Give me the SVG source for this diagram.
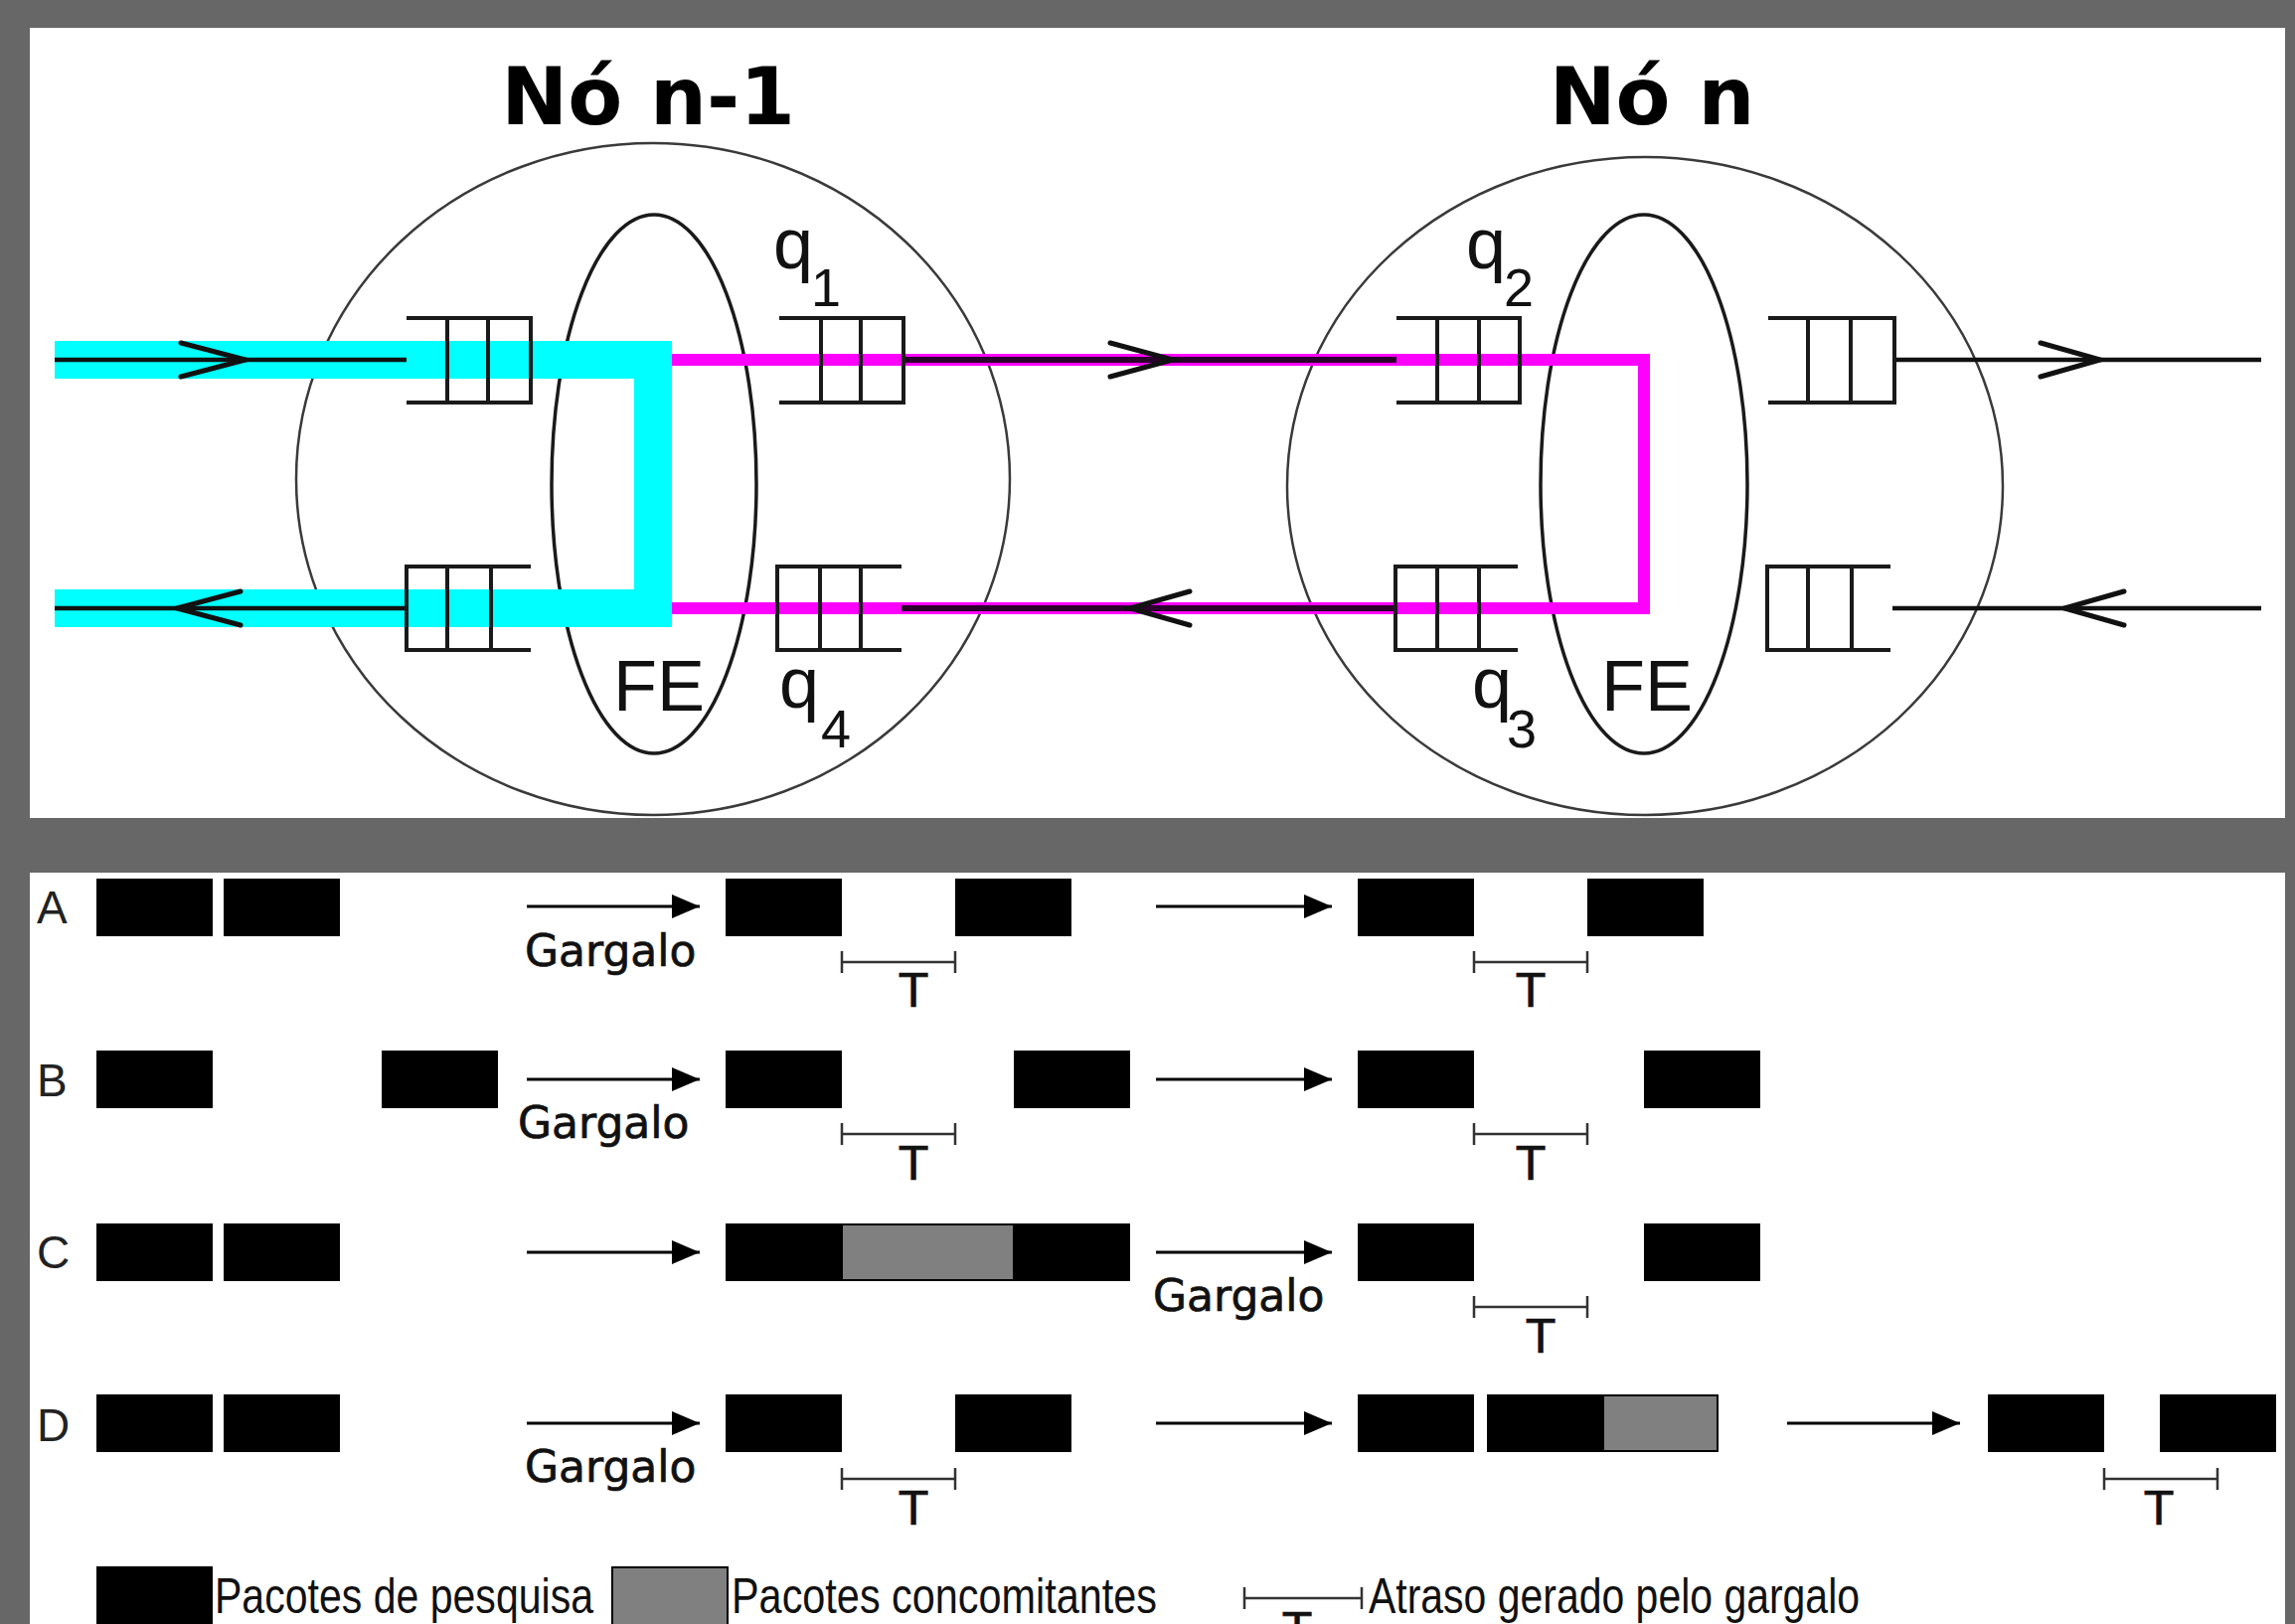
<svg xmlns="http://www.w3.org/2000/svg" width="2309" height="1634" viewBox="0 0 2309 1634">
<style>
.panel{fill:#fff}
.outer{fill:none;stroke:#3a3a3a;stroke-width:2.5}
.fe{fill:none;stroke:#1a1a1a;stroke-width:3.5}
.q{fill:none;stroke:#1a1a1a;stroke-width:4}
.title{font-family:"DejaVu Sans",sans-serif;font-weight:bold;font-size:80px;text-anchor:middle;fill:#000}
.lbl{font-family:"Liberation Sans",Arial,sans-serif;font-size:72px;fill:#111}
.sub{font-family:"Liberation Sans",Arial,sans-serif;font-size:54px;fill:#111}
.cyan{fill:none;stroke:#00ffff;stroke-width:38;stroke-linejoin:miter}
.mag{fill:none;stroke:#ff00ff;stroke-width:12;stroke-linejoin:miter}
.core{fill:none;stroke:#111;stroke-width:4.5}
.pcore{fill:none;stroke:#2b002b;stroke-width:6}
.chev{fill:none;stroke:#111;stroke-width:5;stroke-linecap:round}
.pk{fill:#000}
.cc{fill:#808080;stroke:#000;stroke-width:2}
.arr{fill:none;stroke:#000;stroke-width:3}
.gar{font-family:"DejaVu Sans",sans-serif;font-size:44px;fill:#111;stroke:#111;stroke-width:0.7}
.t{font-family:"DejaVu Sans",sans-serif;font-size:46px;text-anchor:middle;fill:#111;stroke:#111;stroke-width:0.7}
.brk{fill:none;stroke:#333;stroke-width:2.5}
.row{font-family:"Liberation Sans",Arial,sans-serif;font-size:46px;fill:#222}
.leg{font-family:"Liberation Sans Narrow","Liberation Sans",Arial,sans-serif;font-size:50px;fill:#111}
</style>
<defs>
<marker id="tri" markerUnits="userSpaceOnUse" markerWidth="30" markerHeight="26" refX="28" refY="12" orient="auto">
<path d="M0,0 L28,12 L0,24 Z" fill="#000"/>
</marker>
</defs>

<!-- backdrop and the two white panels -->
<rect x="0" y="0" width="2309" height="1634" fill="#676767"/>
<rect class="panel" x="30" y="28" width="2269" height="795"/>
<rect class="panel" x="30" y="878" width="2269" height="760"/>

<!-- node outlines -->
<g id="node-n-1">
<ellipse class="outer" cx="657" cy="482" rx="359" ry="338"/>
<ellipse class="fe" cx="658" cy="487" rx="103" ry="271"/>
<text class="title" x="652" y="125">Nó n-1</text>
</g>
<g id="node-n">
<ellipse class="outer" cx="1655" cy="489" rx="360" ry="331"/>
<ellipse class="fe" cx="1654" cy="487" rx="104" ry="271"/>
<text class="title" x="1662" y="125">Nó n</text>
</g>

<!-- connectors: traffic paths through the nodes -->
<g id="connectors">
<path class="cyan" d="M55,362 H657 V612 H55"/>
<path class="mag" d="M676,362 H1654 V612 H676"/>
<path class="core" d="M55,362 H409 M55,612 H409"/>
<path class="pcore" d="M909,362 H1405 M907,612 H1404"/>
<path class="core" d="M1906,362 H2275 M1904,612 H2275"/>
<path class="chev" d="M182,345 L247,362 L182,379"/>
<path class="chev" d="M242,595 L178,612 L242,629"/>
<path class="chev" d="M1117,345 L1180,362 L1117,379"/>
<path class="chev" d="M1197,595 L1137,612 L1197,629"/>
<path class="chev" d="M2053,345 L2113,362 L2053,379"/>
<path class="chev" d="M2137,595 L2077,612 L2137,629"/>
</g>

<!-- queues (open end + cells) -->
<g id="queue-in-upper-n-1"><path class="q" d="M409,320 H534 V405 H409 M450,320 V405 M491,320 V405"/></g>
<g id="queue-out-lower-n-1"><path class="q" d="M534,570 H409 V654 H534 M450,570 V654 M494,570 V654"/></g>
<g id="queue-q1"><path class="q" d="M784,320 H909 V405 H784 M826,320 V405 M866,320 V405"/></g>
<g id="queue-q4"><path class="q" d="M907,570 H782 V654 H907 M825,570 V654 M866,570 V654"/></g>
<g id="queue-q2"><path class="q" d="M1405,320 H1529 V405 H1405 M1446,320 V405 M1488,320 V405"/></g>
<g id="queue-q3"><path class="q" d="M1527,570 H1404 V654 H1527 M1446,570 V654 M1488,570 V654"/></g>
<g id="queue-out-upper-n"><path class="q" d="M1779,320 H1906 V405 H1779 M1819,320 V405 M1862,320 V405"/></g>
<g id="queue-in-lower-n"><path class="q" d="M1902,570 H1778 V654 H1902 M1819,570 V654 M1863,570 V654"/></g>

<!-- queue and forwarding-engine labels -->
<g id="labels">
<text class="lbl" x="778" y="270">q</text><text class="sub" x="816" y="308">1</text>
<text class="lbl" x="784" y="712">q</text><text class="sub" x="826" y="752">4</text>
<text class="lbl" x="1475" y="270">q</text><text class="sub" x="1513" y="308">2</text>
<text class="lbl" x="1481" y="712">q</text><text class="sub" x="1516" y="752">3</text>
<text class="lbl" x="617" y="715">FE</text>
<text class="lbl" x="1611" y="715">FE</text>
</g>

<!-- packet timelines -->
<g id="row-A">
<text class="row" x="37" y="929">A</text>
<rect class="pk" x="97" y="884" width="117" height="58"/>
<rect class="pk" x="225" y="884" width="117" height="58"/>
<path class="arr" d="M530,912 H704" marker-end="url(#tri)"/>
<text class="gar" x="528" y="972">Gargalo</text>
<rect class="pk" x="730" y="884" width="117" height="58"/>
<rect class="pk" x="961" y="884" width="117" height="58"/>
<path class="brk" d="M847,968 H961 M847,957 V979 M961,957 V979"/>
<text class="t" x="919" y="1013">T</text>
<path class="arr" d="M1163,912 H1340" marker-end="url(#tri)"/>
<rect class="pk" x="1366" y="884" width="117" height="58"/>
<rect class="pk" x="1597" y="884" width="117" height="58"/>
<path class="brk" d="M1483,968 H1597 M1483,957 V979 M1597,957 V979"/>
<text class="t" x="1540" y="1013">T</text>
</g>

<g id="row-B">
<text class="row" x="37" y="1103">B</text>
<rect class="pk" x="97" y="1057" width="117" height="58"/>
<rect class="pk" x="384" y="1057" width="117" height="58"/>
<path class="arr" d="M530,1086 H704" marker-end="url(#tri)"/>
<text class="gar" x="521" y="1145">Gargalo</text>
<rect class="pk" x="730" y="1057" width="117" height="58"/>
<rect class="pk" x="1020" y="1057" width="117" height="58"/>
<path class="brk" d="M847,1141 H961 M847,1130 V1152 M961,1130 V1152"/>
<text class="t" x="919" y="1187">T</text>
<path class="arr" d="M1163,1086 H1340" marker-end="url(#tri)"/>
<rect class="pk" x="1366" y="1057" width="117" height="58"/>
<rect class="pk" x="1654" y="1057" width="117" height="58"/>
<path class="brk" d="M1483,1141 H1597 M1483,1130 V1152 M1597,1130 V1152"/>
<text class="t" x="1540" y="1187">T</text>
</g>

<g id="row-C">
<text class="row" x="37" y="1276">C</text>
<rect class="pk" x="97" y="1231" width="117" height="58"/>
<rect class="pk" x="225" y="1231" width="117" height="58"/>
<path class="arr" d="M530,1260 H704" marker-end="url(#tri)"/>
<rect class="pk" x="730" y="1231" width="117" height="58"/>
<rect class="cc" x="847" y="1232" width="173" height="56"/>
<rect class="pk" x="1020" y="1231" width="117" height="58"/>
<path class="arr" d="M1163,1260 H1340" marker-end="url(#tri)"/>
<text class="gar" x="1160" y="1319">Gargalo</text>
<rect class="pk" x="1366" y="1231" width="117" height="58"/>
<rect class="pk" x="1654" y="1231" width="117" height="58"/>
<path class="brk" d="M1483,1315 H1597 M1483,1304 V1326 M1597,1304 V1326"/>
<text class="t" x="1550" y="1361">T</text>
</g>

<g id="row-D">
<text class="row" x="37" y="1450">D</text>
<rect class="pk" x="97" y="1403" width="117" height="58"/>
<rect class="pk" x="225" y="1403" width="117" height="58"/>
<path class="arr" d="M530,1432 H704" marker-end="url(#tri)"/>
<text class="gar" x="528" y="1491">Gargalo</text>
<rect class="pk" x="730" y="1403" width="117" height="58"/>
<rect class="pk" x="961" y="1403" width="117" height="58"/>
<path class="brk" d="M847,1488 H961 M847,1477 V1499 M961,1477 V1499"/>
<text class="t" x="919" y="1534">T</text>
<path class="arr" d="M1163,1432 H1340" marker-end="url(#tri)"/>
<rect class="pk" x="1366" y="1403" width="117" height="58"/>
<rect class="pk" x="1496" y="1403" width="117" height="58"/>
<rect class="cc" x="1613" y="1404" width="115" height="56"/>
<path class="arr" d="M1798,1432 H1972" marker-end="url(#tri)"/>
<rect class="pk" x="2000" y="1403" width="117" height="58"/>
<rect class="pk" x="2173" y="1403" width="117" height="58"/>
<path class="brk" d="M2117,1488 H2231 M2117,1477 V1499 M2231,1477 V1499"/>
<text class="t" x="2172" y="1534">T</text>
</g>

<g id="legend">
<rect class="pk" x="97" y="1576" width="117" height="70"/>
<text class="leg" x="216" y="1623" textLength="381" lengthAdjust="spacingAndGlyphs">Pacotes de pesquisa</text>
<rect class="cc" x="616" y="1577" width="116" height="70"/>
<text class="leg" x="736" y="1623" textLength="428" lengthAdjust="spacingAndGlyphs">Pacotes concomitantes</text>
<path class="brk" d="M1252,1608 H1370 M1252,1597 V1619 M1370,1597 V1619"/>
<text class="t" x="1305" y="1656">T</text>
<text class="leg" x="1377" y="1623" textLength="494" lengthAdjust="spacingAndGlyphs">Atraso gerado pelo gargalo</text>
</g>
</svg>
